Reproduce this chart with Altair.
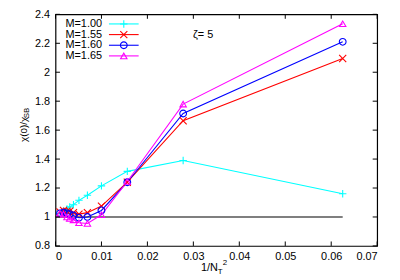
import altair as alt
import pandas as pd

# N_T values and x = 1/N_T^2
nt = [4, 6, 8, 10, 12, 14, 16, 18, 20, 24, 32]
xs = [1.0 / (n * n) for n in nt]

series_names = ["M=1.00", "M=1.55", "M=1.60", "M=1.65"]
colors = ["#00ffff", "#ff0000", "#0000ff", "#ff00ff"]
shapes = ["M-1,0H1M0,-1V1", "M-1,-1L1,1M-1,1L1,-1", "circle", "triangle-up"]
sizes = [56, 42, 52, 56]

m100 = [1.16, 1.39, 1.315, 1.215, 1.15, 1.115, 1.085, 1.07, 1.055, 1.04, 1.025]
m155 = [2.095, 1.665, 1.24, 1.075, 1.03, 1.02, 1.03, 1.04, 1.04, 1.045, 1.035]
m160 = [2.21, 1.715, 1.24, 1.045, 1.0, 0.995, 1.01, 1.02, 1.025, 1.03, 1.025]
m165 = [2.335, 1.78, 1.245, 1.015, 0.955, 0.96, 0.98, 0.99, 1.0, 1.02, 1.025]

ref_x = [0.0, 0.0625]
ref_y = [1.0, 1.0]

x_ticks = [0.0, 0.01, 0.02, 0.03, 0.04, 0.05, 0.06, 0.07]
y_ticks = [0.8, 1.0, 1.2, 1.4, 1.6, 1.8, 2.0, 2.2, 2.4]

rows = []
for name, vals in zip(series_names, [m100, m155, m160, m165]):
    for i, (x, y) in enumerate(zip(xs, vals)):
        rows.append({"M": name, "x": x, "y": y, "i": i})
df = pd.DataFrame(rows)

FONT = "Liberation Sans"
W, H = 325, 234

xscale = alt.Scale(domain=[0, 0.07], nice=False, zero=False)
yscale = alt.Scale(domain=[0.8, 2.4], nice=False, zero=False)
cscale = alt.Scale(domain=series_names, range=colors)
sscale = alt.Scale(domain=series_names, range=shapes)
zscale = alt.Scale(domain=series_names, range=sizes)

xaxis = alt.Axis(values=x_ticks, format="~g", ticks=False, grid=False, domain=False,
                 title=None, labelPadding=5, labelOverlap=False)
yaxis = alt.Axis(values=y_ticks, format="~g", ticks=False, grid=False, domain=False,
                 title=None, labelPadding=6, labelOverlap=False)

X = alt.X("x:Q", scale=xscale, axis=xaxis)
Y = alt.Y("y:Q", scale=yscale, axis=yaxis)

ref = alt.Chart(pd.DataFrame({"x": ref_x, "y": ref_y})).mark_line(
    color="black", strokeWidth=1.2, clip=True
).encode(x=X, y=Y)

lines = alt.Chart(df).mark_line(strokeWidth=1.1).encode(
    x=X, y=Y,
    color=alt.Color("M:N", scale=cscale, legend=None),
    order="i:Q",
)

points = alt.Chart(df).mark_point(filled=False, strokeWidth=1.1, opacity=1).encode(
    x=X, y=Y,
    color=alt.Color("M:N", scale=cscale, legend=None),
    shape=alt.Shape("M:N", scale=sscale, legend=None),
    size=alt.Size("M:N", scale=zscale, legend=None),
)

xt = pd.DataFrame({"v": x_ticks})
yt = pd.DataFrame({"v": y_ticks})
tk = 4.5
XT = alt.X("v:Q", scale=xscale, axis=xaxis)
YT = alt.Y("v:Q", scale=yscale, axis=yaxis)
ticks_bottom = alt.Chart(xt).mark_rule(color="black").encode(
    x=XT, y=alt.value(H), y2=alt.value(H - tk))
ticks_top = alt.Chart(xt).mark_rule(color="black").encode(
    x=XT, y=alt.value(0), y2=alt.value(tk))
ticks_left = alt.Chart(yt).mark_rule(color="black").encode(
    y=YT, x=alt.value(0), x2=alt.value(tk))
ticks_right = alt.Chart(yt).mark_rule(color="black").encode(
    y=YT, x=alt.value(W), x2=alt.value(W - tk))

main = alt.layer(ref, lines, points, ticks_bottom, ticks_top, ticks_left, ticks_right)

# manual gnuplot-style legend (label left, line sample + marker right)
leg = pd.DataFrame({"M": series_names, "row": list(range(len(series_names)))})
ly = alt.Y("row:Q", scale=alt.Scale(domain=[0, 3], range=[9.7, 42]), axis=None)
leg_text = alt.Chart(leg).mark_text(align="right", baseline="middle", font=FONT,
                                    fontSize=11, color="black").encode(
    x=alt.value(47), y=ly, text="M:N")
leg_line = alt.Chart(leg).mark_rule(strokeWidth=1.1).encode(
    x=alt.value(54), x2=alt.value(84), y=ly,
    color=alt.Color("M:N", scale=cscale, legend=None))
leg_pt = alt.Chart(leg).mark_point(filled=False, strokeWidth=1.1, opacity=1).encode(
    x=alt.value(69), y=ly,
    color=alt.Color("M:N", scale=cscale, legend=None),
    shape=alt.Shape("M:N", scale=sscale, legend=None),
    size=alt.Size("M:N", scale=zscale, legend=None))
legend = alt.layer(leg_line, leg_pt, leg_text)

# annotation and axis titles as text
zeta = alt.Chart(pd.DataFrame({"t": ["ζ= 5"]})).mark_text(
    align="left", baseline="middle", font=FONT, fontSize=11, color="black"
).encode(x=alt.value(139), y=alt.value(21), text="t:N")

ytitle_main = alt.Chart(pd.DataFrame({"t": ["χ(0)/χ"]})).mark_text(
    align="left", baseline="alphabetic", angle=270, font=FONT, fontSize=10, color="black"
).encode(x=alt.value(-29), y=alt.value(129), text="t:N")
ytitle_sub = alt.Chart(pd.DataFrame({"t": ["SB"]})).mark_text(
    align="left", baseline="alphabetic", angle=270, font=FONT, fontSize=8, color="black"
).encode(x=alt.value(-26.5), y=alt.value(105), text="t:N")

xtitle_main = alt.Chart(pd.DataFrame({"t": ["1/N"]})).mark_text(
    align="left", baseline="alphabetic", font=FONT, fontSize=11, color="black"
).encode(x=alt.value(147), y=alt.value(259), text="t:N")
xtitle_sub = alt.Chart(pd.DataFrame({"t": ["T"]})).mark_text(
    align="left", baseline="alphabetic", font=FONT, fontSize=8, color="black"
).encode(x=alt.value(164), y=alt.value(262), text="t:N")
xtitle_sup = alt.Chart(pd.DataFrame({"t": ["2"]})).mark_text(
    align="left", baseline="alphabetic", font=FONT, fontSize=8, color="black"
).encode(x=alt.value(169), y=alt.value(253), text="t:N")

chart = alt.layer(
    main, legend, zeta, ytitle_main, ytitle_sub, xtitle_main, xtitle_sub, xtitle_sup
).resolve_scale(y="independent").properties(
    width=W, height=H,
    autosize=alt.AutoSizeParams(type="none"),
    padding={"left": 48, "top": 5, "right": 15, "bottom": 30},
).configure_view(stroke="black", strokeWidth=1.2).configure_axis(
    labelFont=FONT, labelFontSize=11, labelColor="black", labelOverlap=False
)

chart.save("out.html", embed_options={"renderer": "svg", "actions": False})
